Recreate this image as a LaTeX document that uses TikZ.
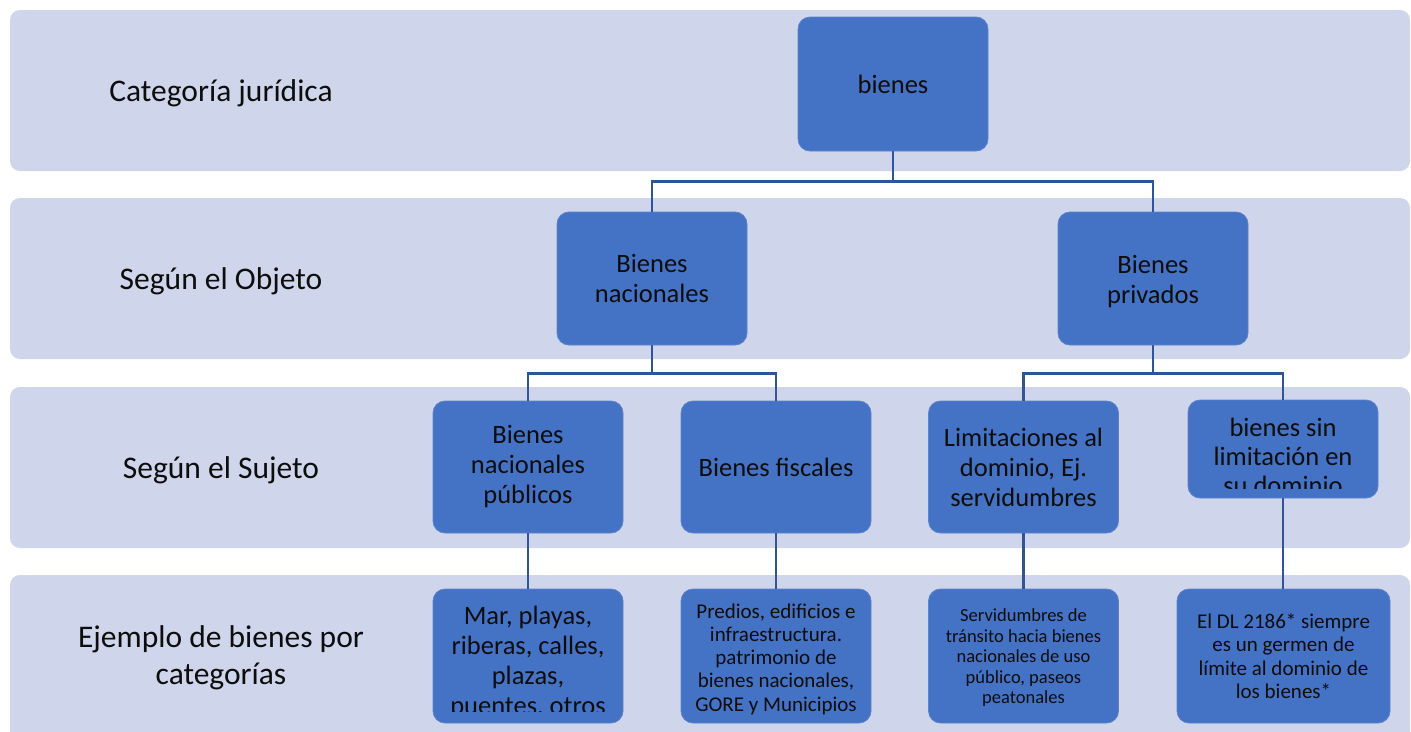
\documentclass[tikz,border=0pt]{standalone}
\usepackage{fontspec}
\setmainfont{Carlito}
\definecolor{band}{HTML}{CFD5EA}
\definecolor{boxfill}{HTML}{4472C4}
\definecolor{boxedge}{HTML}{5B84CC}
\definecolor{conncol}{HTML}{2F5597}
\definecolor{txt}{HTML}{0D0D0D}
\begin{document}
\begin{tikzpicture}[x=1pt,y=-1pt,
 bandbox/.style={fill=band, rounded corners=10pt},
 card/.style={fill=boxfill, draw=boxedge, line width=0.8pt, rounded corners=12pt, text=txt, align=center, inner sep=0pt},
 cardtxt/.style={text=txt, align=center, inner sep=0pt},
 bigtxt/.style={font=\fontsize{26.5}{30}\selectfont},
 lbl/.style={text=txt, align=center, font=\fontsize{31.5}{36.5}\selectfont},
 conn/.style={draw=conncol, line width=2.2pt}
]
\useasboundingbox (0,0) rectangle (1411,731);
\fill[white] (0,0) rectangle (1411,731);
% bands
\path[bandbox] (10,10) rectangle (1410,171);
\path[bandbox] (10,198) rectangle (1410,359);
\path[bandbox] (10,387) rectangle (1410,548);
\path[bandbox] (10,575) rectangle (1410,760);
% row labels
\node[lbl] (t1) at (221,93) {Categoría jurídica};
\node[lbl] (t2) at (221,281) {Según el Objeto};
\node[lbl] (t3) at (221,470) {Según el Sujeto};
\node[lbl] (t4) at (221,658) {Ejemplo de bienes por\\categorías};
% level 1
\node[card, bigtxt, minimum width=190pt, minimum height=134pt] (b) at (893,84) {bienes};
% level 2
\node[card, bigtxt, minimum width=190pt, minimum height=133pt] (bn) at (652,278.5) {Bienes\\nacionales};
\node[card, minimum width=190pt, minimum height=133pt] (bp) at (1153,278.5) {};
\node[cardtxt, bigtxt] (bpt) at (1153,281.5) {Bienes\\privados};
% level 3
\node[card, bigtxt, minimum width=190pt, minimum height=132pt] (n1) at (528,467) {Bienes\\nacionales\\públicos};
\node[card, bigtxt, minimum width=190pt, minimum height=132pt] (n2) at (776,467) {Bienes fiscales};
\node[card, bigtxt, minimum width=190pt, minimum height=132pt] (n3) at (1023.5,467) {Limitaciones al\\dominio, Ej.\\servidumbres};
\node[card, minimum width=190pt, minimum height=98pt] (n4) at (1283,449) {};
\begin{scope}
\clip (1188,400) rectangle (1378,488);
\node[cardtxt, font=\fontsize{26.5}{29}\selectfont] (n4t) at (1283,456) {bienes sin\\limitación en\\su dominio};
\end{scope}
% level 4
\node[card, minimum width=190pt, minimum height=134pt] (e1) at (528,656) {};
\begin{scope}
\clip (433,589) rectangle (623,711);
\node[cardtxt, bigtxt] (e1t) at (528,662) {Mar, playas,\\riberas, calles,\\plazas,\\puentes, otros};
\end{scope}
\node[card, minimum width=190pt, minimum height=134pt] (e2) at (776,656) {};
\node[cardtxt, font=\fontsize{21}{23.2}\selectfont] (e2t) at (776,659) {Predios, edificios e\\infraestructura.\\patrimonio de\\bienes nacionales,\\GORE y Municipios};
\node[card, minimum width=190pt, minimum height=134pt] (e3) at (1023.5,656) {};
\node[cardtxt, font=\fontsize{18.5}{20.5}\selectfont] (e3t) at (1023.5,658) {Servidumbres de\\tránsito hacia bienes\\nacionales de uso\\público, paseos\\peatonales};
\node[card, font=\fontsize{21}{23.5}\selectfont, minimum width=213pt, minimum height=134pt] (e4) at (1283.5,656) {El DL 2186* siempre\\es un germen de\\límite al dominio de\\los bienes*};
% connectors
\draw[conn] (b.south) -- ++(0,30) -| (bn.north);
\draw[conn] (b.south) -- ++(0,30) -| (bp.north);
\draw[conn] (bn.south) -- ++(0,28) -| (n1.north);
\draw[conn] (bn.south) -- ++(0,28) -| (n2.north);
\draw[conn] (bp.south) -- ++(0,28) -| (n3.north);
\draw[conn] (bp.south) -- ++(0,28) -| (n4.north);
\draw[conn] (n1.south) -- (e1.north);
\draw[conn] (n2.south) -- (e2.north);
\draw[conn] (n3.south) -- (e3.north);
\draw[conn] (n4.south) -- (n4.south |- e4.north);
\end{tikzpicture}
\end{document}
